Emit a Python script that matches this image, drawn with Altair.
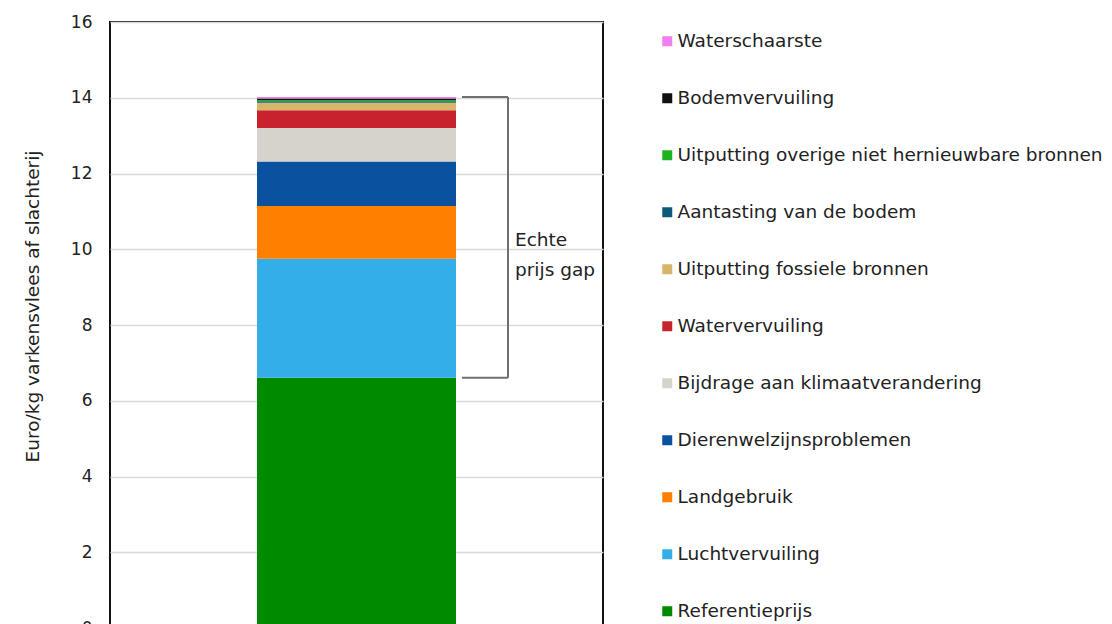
import altair as alt
import pandas as pd

# Stack order, bottom to top
categories = [
    "Referentieprijs",
    "Luchtvervuiling",
    "Landgebruik",
    "Dierenwelzijnsproblemen",
    "Bijdrage aan klimaatverandering",
    "Watervervuiling",
    "Uitputting fossiele bronnen",
    "Aantasting van de bodem",
    "Uitputting overige niet hernieuwbare bronnen",
    "Bodemvervuiling",
    "Waterschaarste",
]
values = [6.61, 3.14, 1.39, 1.18, 0.88, 0.47, 0.20, 0.04, 0.03, 0.04, 0.04]
colors = [
    "#008a00",
    "#33aee8",
    "#ff7f00",
    "#0a52a0",
    "#d6d3cd",
    "#c8232c",
    "#d9b56b",
    "#0b5a7a",
    "#1db31d",
    "#111111",
    "#f07ef0",
]
y_ticks = [0, 2, 4, 6, 8, 10, 12, 14, 16]
bar_name = "Varkensvlees"
y_title = "Euro/kg varkensvlees af slachterij"
gap_text = "Echte\nprijs gap"

FONT = "DejaVu Sans"
TEXT = "#222222"

df = pd.DataFrame({
    "categorie": categories,
    "waarde": values,
    "volgorde": list(range(len(categories))),
    "x": [bar_name] * len(categories),
})

legend_order = list(reversed(categories))
legend_range = list(reversed(colors))

y_scale = alt.Scale(domain=[0, 16], nice=False, zero=True)

bars = alt.Chart(df).mark_bar(size=199).encode(
    x=alt.X("x:N", axis=None),
    y=alt.Y(
        "waarde:Q",
        stack="zero",
        scale=y_scale,
        title=y_title,
        axis=alt.Axis(
            values=y_ticks,
            grid=True,
            gridColor="#d9d9d9",
            gridWidth=1.5,
            domain=False,
            ticks=False,
            labelPadding=18,
            labelFontSize=17,
            labelFont=FONT,
            labelColor=TEXT,
            titleFont=FONT,
            titleFontSize=18.5,
            titleFontWeight="normal",
            titleColor=TEXT,
            titleAngle=270,
            titleAlign="center",
            titleBaseline="middle",
            titleX=-78,
            titleY=284,
        ),
    ),
    color=alt.Color(
        "categorie:N",
        scale=alt.Scale(domain=legend_order, range=legend_range),
        legend=alt.Legend(
            orient="none",
            legendX=548,
            legendY=10,
            title=None,
            labelFont=FONT,
            labelFontSize=18.5,
            labelColor=TEXT,
            labelLimit=600,
            symbolType="square",
            symbolSize=100,
            symbolStrokeWidth=0,
            rowPadding=38,
            labelOffset=1,
            padding=0,
        ),
    ),
    order=alt.Order("volgorde:Q", sort="ascending"),
)

gap_df = pd.DataFrame({"lo": [values[0]], "hi": [sum(values)]})
edges_df = pd.DataFrame({"yv": [values[0], sum(values)]})
label_df = pd.DataFrame({"t": [gap_text]})

bracket_v = alt.Chart(gap_df).mark_rule(color="#707070", strokeWidth=2).encode(
    x=alt.value(398),
    y=alt.Y("lo:Q", scale=y_scale, title=y_title),
    y2="hi:Q",
)
bracket_h = alt.Chart(edges_df).mark_rule(color="#707070", strokeWidth=2).encode(
    x=alt.value(352),
    x2=alt.value(398),
    y=alt.Y("yv:Q", scale=y_scale, title=y_title),
)
gap_label = alt.Chart(label_df).mark_text(
    align="left", baseline="middle", font=FONT, fontSize=18.5,
    lineHeight=30, lineBreak="\n", color=TEXT,
).encode(
    x=alt.value(405),
    y=alt.value(218),
    text="t:N",
)

chart = alt.layer(bars, bracket_v, bracket_h, gap_label).properties(
    width=493,
    height=606,
    background="white",
    padding={"left": 15, "top": 5, "right": 0, "bottom": 5},
).configure_view(
    stroke="#111111", strokeWidth=2
)

chart.save("out.html", embed_options={"renderer": "svg", "actions": False})
